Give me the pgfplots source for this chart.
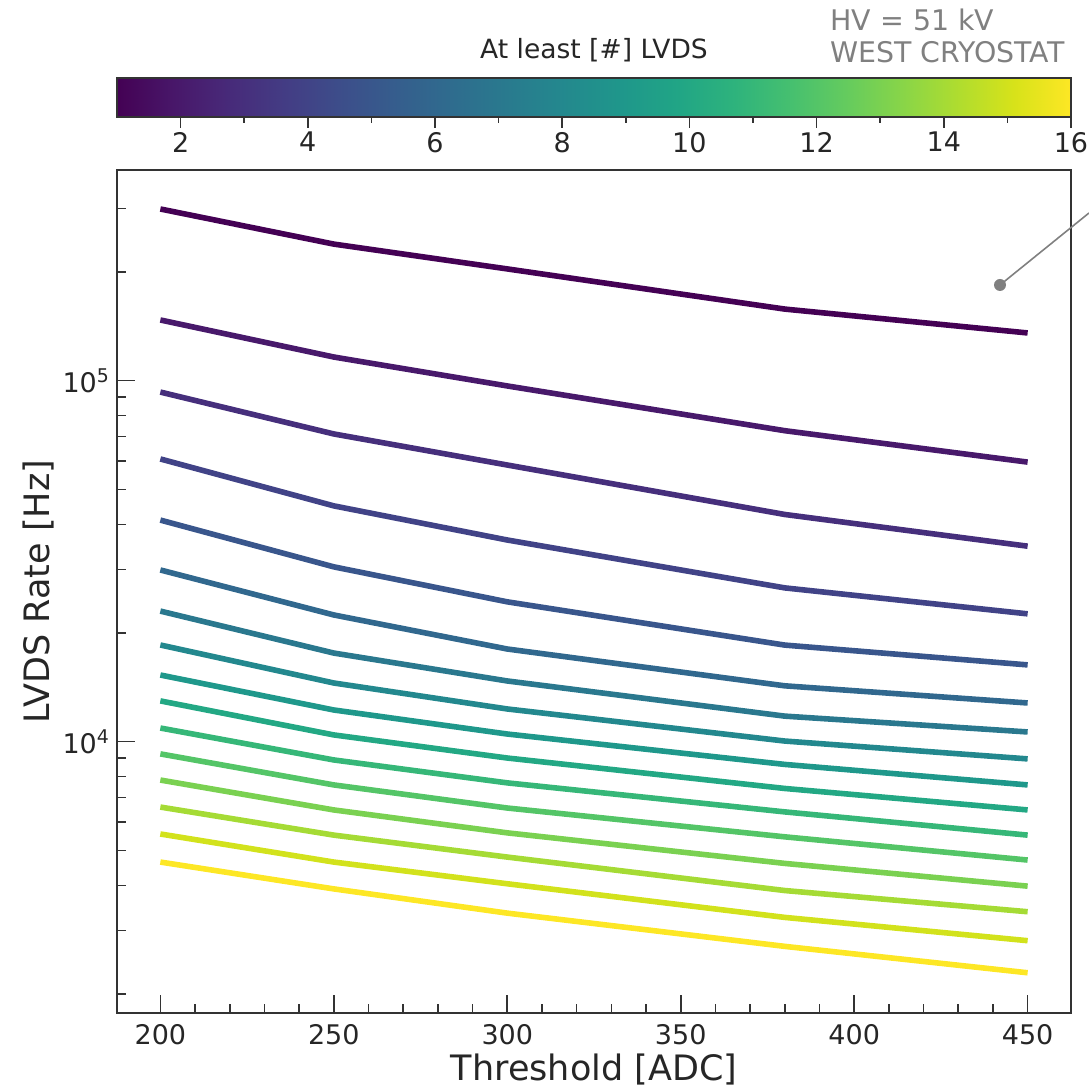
\documentclass[border=0pt]{standalone}
\usepackage{pgfplots}
\pgfplotsset{compat=1.18}
\usepackage{fontspec}
\setmainfont{DejaVu Sans}
\definecolor{annot}{HTML}{808080}
\definecolor{axcol}{HTML}{333333}
\begin{document}
\begin{tikzpicture}
\path[use as bounding box] (-58.5pt,-37.5pt) rectangle (486pt,506.5pt);
\begin{axis}[
  at={(0,0)}, anchor=south west,
  scale only axis, width=477pt, height=421.5pt,
  xmin=187.5, xmax=462.5,
  ymode=log, ymin=1772, ymax=3.835e5,
  xtick={200,250,...,450},
  minor x tick num=4,
  ytick={1e4,1e5},
  yticklabels={10\textsuperscript{4},10\textsuperscript{5}},
  minor ytick={2000,3000,4000,5000,6000,7000,8000,9000,20000,30000,40000,50000,60000,70000,80000,90000,200000,300000},
  tick align=inside,
  xtick pos=left, ytick pos=left,
  major tick length=8.8pt, minor tick length=4.5pt,
  every tick/.style={axcol, line width=0.8pt},
  axis line style={axcol, line width=0.8pt},
  tick label style={font=\fontsize{13.5}{16}\selectfont, text=black!85},
  xticklabel style={yshift=-2pt},
  /pgf/number format/assume math mode=true,
  xlabel={Threshold [ADC]}, ylabel={LVDS Rate [Hz]},
  label style={font=\fontsize{17.5}{20}\selectfont, text=black!85},
  xlabel style={at={(axis description cs:0.5,-0.0676)}, anchor=center},
  ylabel style={at={(axis description cs:-0.0828,0.5)}, anchor=center},
  colormap/viridis,
  every axis plot/.append style={line width=2.8pt, line join=round},
]
\addplot[color of colormap={0}] coordinates {(200,2.99e5) (250,2.39e5) (300,2.04e5) (380,1.579e5) (450,1.356e5)};
\addplot[color of colormap={66.67}] coordinates {(200,1.473e5) (250,1.163e5) (300,9.67e4) (380,7.27e4) (450,5.95e4)};
\addplot[color of colormap={133.33}] coordinates {(200,9.30e4) (250,7.12e4) (300,5.84e4) (380,4.26e4) (450,3.48e4)};
\addplot[color of colormap={200}] coordinates {(200,6.07e4) (250,4.50e4) (300,3.62e4) (380,2.667e4) (450,2.26e4)};
\addplot[color of colormap={266.67}] coordinates {(200,4.11e4) (250,3.05e4) (300,2.44e4) (380,1.852e4) (450,1.632e4)};
\addplot[color of colormap={333.33}] coordinates {(200,2.99e4) (250,2.244e4) (300,1.806e4) (380,1.428e4) (450,1.28e4)};
\addplot[color of colormap={400}] coordinates {(200,2.30e4) (250,1.76e4) (300,1.473e4) (380,1.177e4) (450,1.064e4)};
\addplot[color of colormap={466.67}] coordinates {(200,1.853e4) (250,1.454e4) (300,1.232e4) (380,1.004e4) (450,8960)};
\addplot[color of colormap={533.33}] coordinates {(200,1.53e4) (250,1.224e4) (300,1.05e4) (380,8650) (450,7590)};
\addplot[color of colormap={600}] coordinates {(200,1.297e4) (250,1.044e4) (300,9010) (380,7420) (450,6470)};
\addplot[color of colormap={666.67}] coordinates {(200,1.091e4) (250,8900) (300,7690) (380,6390) (450,5510)};
\addplot[color of colormap={733.33}] coordinates {(200,9250) (250,7590) (300,6550) (380,5450) (450,4700)};
\addplot[color of colormap={800}] coordinates {(200,7830) (250,6470) (300,5590) (380,4600) (450,3980)};
\addplot[color of colormap={866.67}] coordinates {(200,6590) (250,5510) (300,4790) (380,3870) (450,3380)};
\addplot[color of colormap={933.33}] coordinates {(200,5550) (250,4640) (300,4040) (380,3260) (450,2810)};
\addplot[color of colormap={1000}] coordinates {(200,4640) (250,3910) (300,3350) (380,2710) (450,2290)};
\end{axis}
% colorbar as its own axis
\begin{axis}[
  at={(0,448pt)}, anchor=south west,
  scale only axis, width=477pt, height=19.5pt,
  xmin=1, xmax=16, ymin=0, ymax=1,
  enlargelimits=false, axis on top,
  ytick=\empty,
  xtick={2,4,...,16}, minor x tick num=1,
  tick align=outside, xtick pos=left, xticklabel pos=left,
  major tick length=5.5pt, minor tick length=3pt,
  every tick/.style={axcol, line width=0.8pt},
  axis line style={axcol, line width=0.8pt},
  tick label style={font=\fontsize{13.5}{16}\selectfont, text=black!85},
  xticklabel style={yshift=1.5pt},
  /pgf/number format/assume math mode=true,
  colormap/viridis, point meta min=1, point meta max=16,
]
\addplot[surf, shader=interp, mesh/rows=2, point meta=x] coordinates {
(1,0) (2,0) (3,0) (4,0) (5,0) (6,0) (7,0) (8,0) (9,0) (10,0) (11,0) (12,0) (13,0) (14,0) (15,0) (16,0)
(1,1) (2,1) (3,1) (4,1) (5,1) (6,1) (7,1) (8,1) (9,1) (10,1) (11,1) (12,1) (13,1) (14,1) (15,1) (16,1)
};
\end{axis}
\node[font=\fontsize{13.25}{16}\selectfont, text=black!85] at (238.5pt,481.5pt) {At least [\#] LVDS};
\node[anchor=west, align=left, text=annot, inner sep=0pt, font=\fontsize{14.2}{16}\selectfont] at (356.5pt,488.5pt) {HV = 51 kV\\WEST CRYOSTAT};
\draw[annot, line width=0.8pt] (441.5pt,364pt) -- (486pt,400pt);
\fill[annot] (441.5pt,364pt) circle (3pt);
\end{tikzpicture}
\end{document}
